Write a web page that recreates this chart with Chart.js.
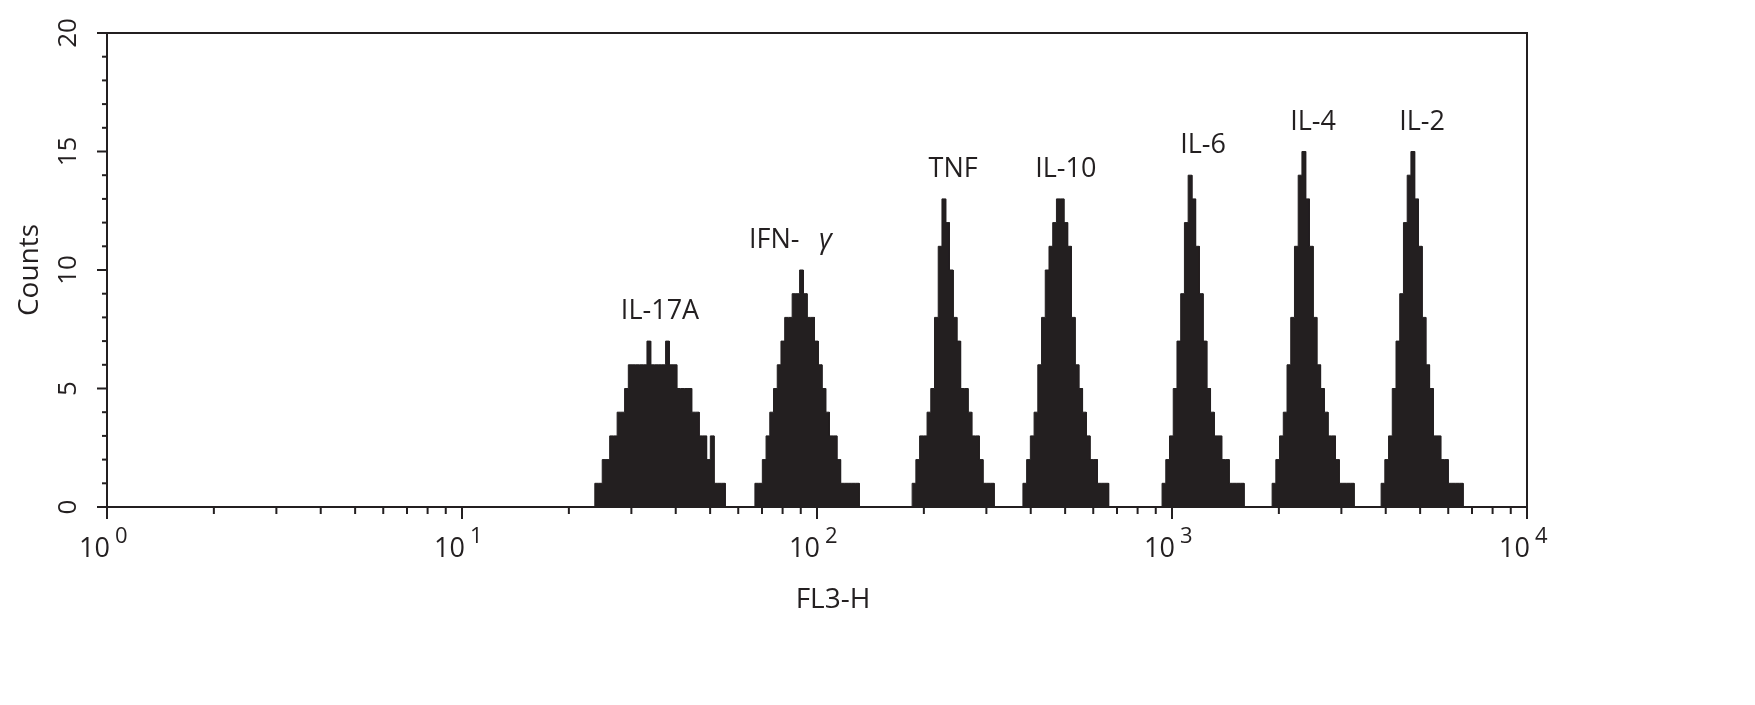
<!DOCTYPE html>
<html>
<head>
<meta charset="utf-8">
<script src="https://cdn.jsdelivr.net/npm/chart.js@4"></script>
<style>
  body { margin: 0; background: #fff; }
</style>
</head>
<body>
<canvas id="histChart" width="1755" height="705"></canvas>
<script>
// bin width in decades (log10 of FL3-H)
const binWidth = 0.0105;
const peakNames = ["IL-17A", "IFN- γ", "TNF", "IL-10", "IL-6", "IL-4", "IL-2"];
const peakStarts = [1.374, 1.825, 2.268, 2.580, 2.972, 3.282, 3.589];
const il17aCounts = [1,1,2,2,3,3,4,4,5,6,6,6,6,6,7,6,6,6,6,7,6,6,5,5,5,5,4,4,3,3,2,3,1,1,1];
const ifngCounts = [1,1,2,3,4,5,6,7,8,8,9,9,10,9,8,8,7,6,5,4,3,3,2,1,1,1,1,1];
const tnfCounts = [1,2,3,3,4,5,8,11,13,12,10,8,7,5,5,4,3,3,2,1,1,1];
const il10Counts = [1,2,3,4,6,8,10,11,12,13,13,12,11,8,6,5,4,3,2,2,1,1,1];
const il6Counts = [1,2,3,5,7,9,12,14,13,11,9,7,5,4,3,3,2,2,1,1,1,1];
const il4Counts = [1,2,3,4,6,8,11,14,15,13,11,8,6,5,4,3,3,2,1,1,1,1];
const il2Counts = [1,2,3,5,7,9,12,14,15,13,11,8,6,5,3,3,2,2,1,1,1,1];
const allCounts = [il17aCounts, ifngCounts, tnfCounts, il10Counts, il6Counts, il4Counts, il2Counts];
const yTicks = [0, 5, 10, 15, 20];
const xDecades = [0, 1, 2, 3, 4];

const FONT = '"Open Sans", "Noto Sans", sans-serif';
const INK = "#231f20";

function toPoints(start, counts) {
  const pts = [{ x: Math.pow(10, start), y: 0 }];
  counts.forEach((c, i) => {
    pts.push({ x: Math.pow(10, start + i * binWidth), y: c });
    pts.push({ x: Math.pow(10, start + (i + 1) * binWidth), y: c });
  });
  pts.push({ x: Math.pow(10, start + counts.length * binWidth), y: 0 });
  return pts;
}

const datasets = allCounts.map((counts, i) => ({
  label: peakNames[i],
  data: toPoints(peakStarts[i], counts),
  borderColor: INK,
  backgroundColor: INK,
  borderWidth: 1,
  pointRadius: 0,
  tension: 0,
  fill: "origin",
}));

const axesPlugin = {
  id: "axesPlugin",
  afterDraw(chart) {
    const ctx = chart.ctx;
    const x = chart.scales.x, y = chart.scales.y;
    const a = chart.chartArea;
    ctx.save();
    ctx.strokeStyle = INK;
    ctx.fillStyle = INK;
    ctx.lineWidth = 2;
    ctx.strokeRect(a.left, a.top, a.right - a.left, a.bottom - a.top);

    // x ticks (log)
    for (let d = 0; d < 4; d++) {
      for (let m = 1; m <= 9; m++) {
        const px = x.getPixelForValue(m * Math.pow(10, d));
        const len = m === 1 ? 12 : 7;
        ctx.beginPath(); ctx.moveTo(px, a.bottom); ctx.lineTo(px, a.bottom + len); ctx.stroke();
      }
    }
    const pxEnd = x.getPixelForValue(10000);
    ctx.beginPath(); ctx.moveTo(pxEnd, a.bottom); ctx.lineTo(pxEnd, a.bottom + 12); ctx.stroke();
    xDecades.forEach(d => {
      const px = x.getPixelForValue(Math.pow(10, d));
      ctx.font = "27px " + FONT;
      ctx.textBaseline = "alphabetic";
      ctx.textAlign = "right";
      ctx.fillText("10", px + 3, a.bottom + 50);
      ctx.font = "22px " + FONT;
      ctx.textAlign = "left";
      ctx.fillText(String(d), px + 8, a.bottom + 36);
    });

    // y ticks
    for (let v = 0; v <= 20; v++) {
      const py = y.getPixelForValue(v);
      const len = v % 5 === 0 ? 10 : 5;
      ctx.beginPath(); ctx.moveTo(a.left, py); ctx.lineTo(a.left - len, py); ctx.stroke();
    }
    ctx.font = "26px " + FONT;
    ctx.textAlign = "center";
    ctx.textBaseline = "middle";
    yTicks.forEach(v => {
      const py = y.getPixelForValue(v);
      ctx.save();
      ctx.translate(a.left - 38, py);
      ctx.rotate(-Math.PI / 2);
      ctx.fillText(String(v), 0, 0);
      ctx.restore();
    });

    // axis titles
    ctx.font = "28px " + FONT;
    ctx.fillText("FL3-H", (a.left + a.right) / 2 + 16, 600);
    ctx.save();
    ctx.translate(30, (a.top + a.bottom) / 2);
    ctx.rotate(-Math.PI / 2);
    ctx.fillText("Counts", 0, 0);
    ctx.restore();

    // peak labels
    ctx.font = "27px " + FONT;
    ctx.textBaseline = "alphabetic";
    allCounts.forEach((counts, i) => {
      const mid = peakStarts[i] + counts.length * binWidth / 2;
      const px = x.getPixelForValue(Math.pow(10, mid));
      const py = y.getPixelForValue(Math.max(...counts)) - 22;
      if (i === 1) {
        ctx.textAlign = "left";
        ctx.fillText("IFN-", px - 58, py);
        ctx.font = "italic 28px " + FONT;
        ctx.fillText("γ", px + 12, py);
        ctx.font = "27px " + FONT;
        ctx.textAlign = "center";
      } else {
        ctx.fillText(peakNames[i], px, py);
      }
    });
    ctx.restore();
  }
};

new Chart(document.getElementById("histChart"), {
  type: "line",
  data: { datasets },
  options: {
    responsive: false,
    animation: false,
    layout: { padding: { left: 107, right: 228, top: 33, bottom: 198 } },
    plugins: { legend: { display: false }, tooltip: { enabled: false } },
    scales: {
      x: { type: "logarithmic", min: 1, max: 10000, display: false },
      y: { type: "linear", min: 0, max: 20, display: false },
    },
  },
  plugins: [axesPlugin],
});
</script>
</body>
</html>
